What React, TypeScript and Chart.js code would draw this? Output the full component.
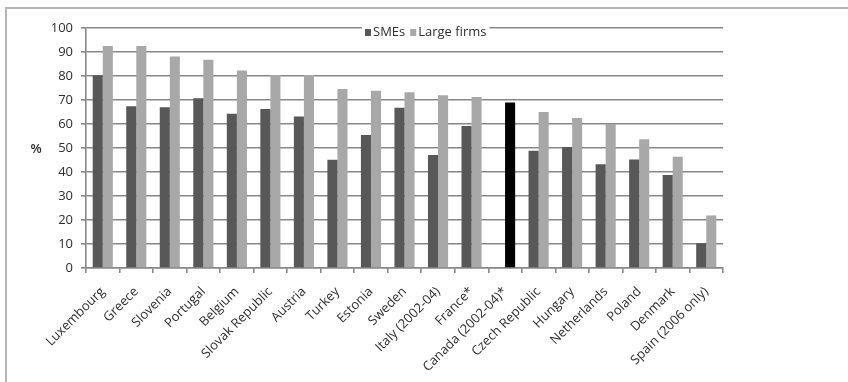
import { useEffect, useRef } from "react";
import { Chart, registerables } from "chart.js";

Chart.register(...registerables);

// Share of firms (%) by country, SMEs vs large firms
const countries = [
  "Luxembourg",
  "Greece",
  "Slovenia",
  "Portugal",
  "Belgium",
  "Slovak Republic",
  "Austria",
  "Turkey",
  "Estonia",
  "Sweden",
  "Italy (2002-04)",
  "France*",
  "Canada (2002-04)*",
  "Czech Republic",
  "Hungary",
  "Netherlands",
  "Poland",
  "Denmark",
  "Spain (2006 only)",
];

const smeValues: (number | null)[] = [
  80.3, 67.4, 67.0, 70.7, 64.3, 66.3, 63.1, 45.1, 55.4, 66.8, 47.1, 59.2, null,
  48.9, 50.4, 43.2, 45.2, 38.8, 10.3,
];

const largeValues: number[] = [
  92.5, 92.5, 88.1, 86.8, 82.3, 80.4, 80.4, 74.6, 73.9, 73.2, 72.0, 71.3, 69.0,
  65.0, 62.5, 60.0, 53.6, 46.4, 21.9,
];

// Canada only reports a single figure, shown as a black bar
const highlighted = ["Canada (2002-04)*"];

const yTicks = [0, 10, 20, 30, 40, 50, 60, 70, 80, 90, 100];
const yTitle = "%";
const seriesNames = ["SMEs", "Large firms"];

const smeColor = "#585858";
const largeColor = "#a8a8a8";
const highlightColor = "#000000";
const gridColor = "#878787";
const textColor = "#2e2e2e";
const fontFamily = "'Open Sans', Lato, sans-serif";

export default function App() {
  const canvasRef = useRef<HTMLCanvasElement | null>(null);

  useEffect(() => {
    const canvas = canvasRef.current;
    if (!canvas) return;

    const overlay = {
      id: "overlay",
      afterDraw(chart: any) {
        const { ctx, chartArea, scales } = chart;
        ctx.save();
        // horizontal "%" axis title
        ctx.font = `600 13px ${fontFamily}`;
        ctx.fillStyle = textColor;
        ctx.textAlign = "center";
        ctx.textBaseline = "middle";
        ctx.fillText(yTitle, chartArea.left - 50, scales.y.getPixelForValue(50) + 1);

        // legend inside the top of the plot
        ctx.font = `13px ${fontFamily}`;
        ctx.textAlign = "left";
        const box = 6;
        const gap = 2;
        const space = 5;
        const widths = seriesNames.map((n) => ctx.measureText(n).width);
        const total =
          widths.reduce((a: number, b: number) => a + b, 0) +
          seriesNames.length * (box + gap) +
          space * (seriesNames.length - 1);
        let x = chartArea.left + 279;
        const y = chartArea.top + 4;
        ctx.fillStyle = "#ffffff";
        ctx.fillRect(x - 3, y - 7, total + 6, 14);
        const colors = [smeColor, largeColor];
        seriesNames.forEach((name, i) => {
          ctx.fillStyle = colors[i];
          ctx.fillRect(x, y - 3, box, box + 1);
          x += box + gap;
          ctx.fillStyle = textColor;
          ctx.fillText(name, x, y);
          x += widths[i] + space;
        });
        ctx.restore();
      },
    };

    const chart = new Chart(canvas, {
      type: "bar",
      data: {
        labels: countries,
        datasets: [
          {
            label: seriesNames[0],
            data: smeValues,
            backgroundColor: smeColor,
            categoryPercentage: 0.6,
            barPercentage: 1.0,
          },
          {
            label: seriesNames[1],
            data: largeValues,
            backgroundColor: countries.map((c) =>
              highlighted.includes(c) ? highlightColor : largeColor
            ),
            categoryPercentage: 0.6,
            barPercentage: 1.0,
          },
        ],
      },
      options: {
        animation: false,
        responsive: false,
        maintainAspectRatio: false,
        layout: { padding: { top: 28, right: 125, left: 0, bottom: 0 } },
        plugins: {
          legend: { display: false },
          tooltip: { enabled: false },
        },
        scales: {
          x: {
            offset: true,
            grid: {
              offset: true,
              drawOnChartArea: false,
              drawTicks: true,
              tickLength: 5,
              color: gridColor,
              lineWidth: 1.6,
            },
            border: { color: gridColor, width: 1.6 },
            ticks: {
              autoSkip: false,
              maxRotation: 45,
              minRotation: 45,
              color: textColor,
              font: { family: fontFamily, size: 13 },
              padding: 11,
            },
            afterFit(scale: any) {
              scale.height = 114;
            },
          },
          y: {
            min: 0,
            max: 100,
            afterBuildTicks(scale: any) {
              scale.ticks = yTicks.map((v) => ({ value: v }));
            },
            grid: {
              color: gridColor,
              lineWidth: 1.6,
              tickLength: 5,
            },
            border: { color: gridColor, width: 1.6 },
            ticks: {
              color: textColor,
              font: { family: fontFamily, size: 13 },
              padding: 8,
            },
            afterFit(scale: any) {
              scale.width = 86;
            },
          },
        },
      },
      plugins: [overlay],
    });

    return () => chart.destroy();
  }, []);

  return (
    <div
      style={{
        position: "absolute",
        left: 0,
        top: 0,
        width: 848,
        height: 382,
        background: "#ffffff",
        overflow: "hidden",
      }}
    >
      <div
        style={{
          position: "absolute",
          left: 5,
          top: 7,
          width: 900,
          height: 400,
          borderTop: "2px solid #b4b4b4",
          borderLeft: "2px solid #b4b4b4",
        }}
      />
      <canvas
        ref={canvasRef}
        width={848}
        height={382}
        style={{ position: "absolute", left: 0, top: 0, width: 848, height: 382 }}
      />
    </div>
  );
}
